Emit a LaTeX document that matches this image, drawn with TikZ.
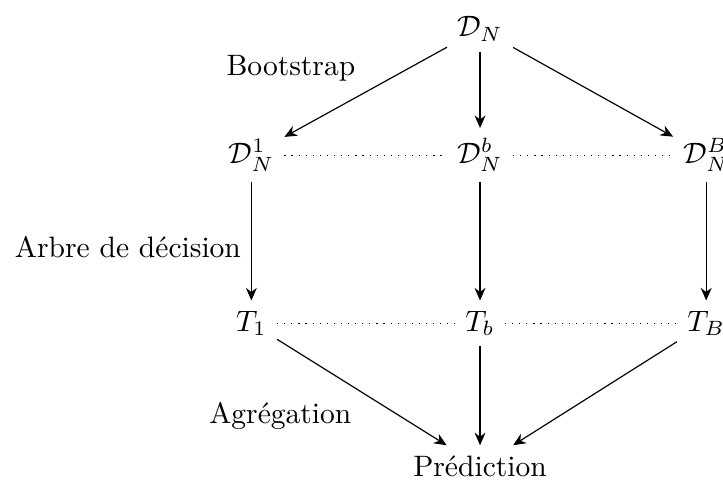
\documentclass[tikz,border=0pt]{standalone}
\usepackage{amsmath,amssymb}
\usepackage{tikz}
\usetikzlibrary{arrows.meta,positioning}

\begin{document}
\begin{tikzpicture}[
  arr/.style={-{Stealth[length=1.5mm,width=1.3mm]}},
  dots/.style={dotted},
  lbl/.style={font=\normalsize}]
\useasboundingbox (-5.71,1.845) rectangle (2.89,-3.99);
\node (dn) at (0,1.5) {$\mathcal{D}_N$};
\node (d1) at (-2.72,0) {$\mathcal{D}_N^1$};
\node (db) at (0,0) {$\mathcal{D}_N^b$};
\node (dB) at (2.69,0) {$\mathcal{D}_N^B$};
\node (t1) at (-2.72,-2) {$T_1$};
\node (tb) at (0,-2) {$T_b$};
\node (tB) at (2.69,-2) {$T_B$};
\node (pred) at (0,-3.7) {Prédiction};
\draw[arr] (dn) -- node[midway,above left,lbl] (boot) {Bootstrap} (d1);
\draw[arr] (dn) -- (db);
\draw[arr] (dn) -- (dB);
\draw[dots] (d1) -- (db);
\draw[dots] (db) -- (dB);
\draw[arr] (d1) -- node[midway,left,lbl,yshift=-2pt] (arbre) {Arbre de décision} (t1);
\draw[arr] (db) -- (tb);
\draw[arr] (dB) -- (tB);
\draw[dots] (t1) -- (tb);
\draw[dots] (tb) -- (tB);
\draw[arr] (t1) -- node[midway,below left,lbl] (agreg) {Agrégation} (pred);
\draw[arr] (tb) -- (pred);
\draw[arr] (tB) -- (pred);
\end{tikzpicture}
\end{document}
